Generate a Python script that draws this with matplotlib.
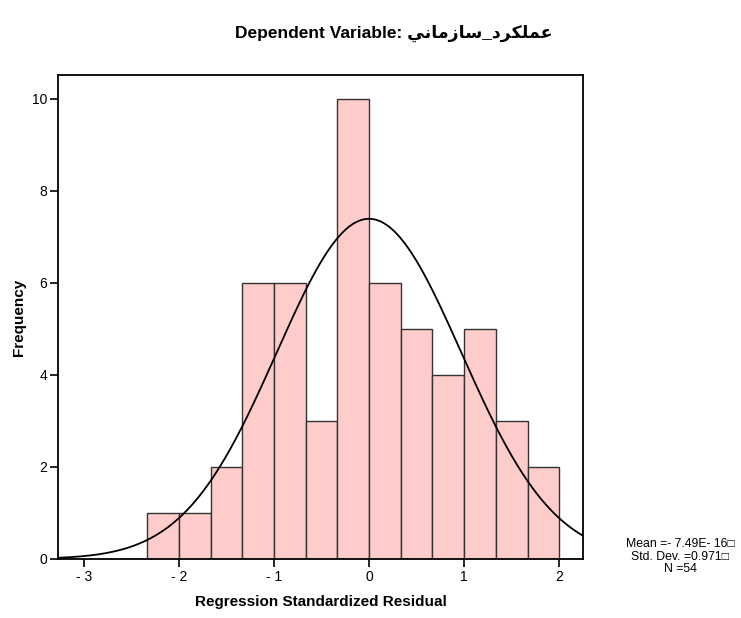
import matplotlib
matplotlib.use("Agg")
import matplotlib.pyplot as plt
import numpy as np

# Histogram data (regression standardized residuals)
bin_start = -2.3333
bin_width = 0.3333
counts = [1, 1, 2, 6, 6, 3, 10, 6, 5, 4, 5, 3, 2]

# Fitted normal curve parameters
mean_val = -7.49e-16
std_val = 0.971
n_val = 54

x_ticks = [-3, -2, -1, 0, 1, 2]
x_tick_labels = ["- 3", "- 2", "- 1", "0", "1", "2"]
y_ticks = [0, 2, 4, 6, 8, 10]

# Arabic variable name, pre-shaped and in visual order (matplotlib does no bidi shaping)
var_name_visual = "\uFEF2\uFEE7\uFE8E\uFEE3\uFEAF\uFE8E\uFEB3_\uFEA9\uFEAE\uFEDC\uFEE0\uFEE4\uFECB"

plt.rcParams["font.family"] = ["Liberation Sans", "DejaVu Sans"]

fig = plt.figure(figsize=(7.41, 6.18), dpi=100)
ax = fig.add_axes([0.0783, 0.0955, 0.7085, 0.7831])

edges = bin_start + bin_width * np.arange(len(counts))
ax.bar(edges, counts, width=bin_width, align="edge",
       color="#ffcccc", edgecolor="#333333", linewidth=1.0, zorder=2)

xlim = (-3.27, 2.25)
xs = np.linspace(xlim[0], xlim[1], 400)
ys = n_val * bin_width * np.exp(-0.5 * ((xs - mean_val) / std_val) ** 2) / (std_val * np.sqrt(2 * np.pi))
ax.plot(xs, ys, color="black", linewidth=1.3, zorder=3)

ax.set_xlim(*xlim)
ax.set_ylim(0, 10.52)
ax.set_xticks(x_ticks)
ax.set_xticklabels(x_tick_labels)
ax.set_yticks(y_ticks)
ax.tick_params(direction="out", length=6, width=1.2, labelsize=10, pad=2)
for s in ax.spines.values():
    s.set_linewidth(1.3)

ax.set_xlabel("Regression Standardized Residual", fontsize=11, fontweight="bold", labelpad=8)
ax.set_ylabel("Frequency", fontsize=11, fontweight="bold", labelpad=4)

fig.text(0.532, 0.946, "Dependent Variable: " + var_name_visual, ha="center", va="center",
         fontsize=12.5, fontweight="bold", family=["Liberation Sans", "DejaVu Sans"])

fig.text(0.918, 0.099,
         "Mean =- 7.49E- 16\u25a1\nStd. Dev. =0.971\u25a1\nN =" + str(n_val),
         ha="center", va="center", fontsize=8.8, linespacing=1.05,
         family=["Liberation Sans", "DejaVu Sans"])

fig.savefig("out.png", dpi=100)
